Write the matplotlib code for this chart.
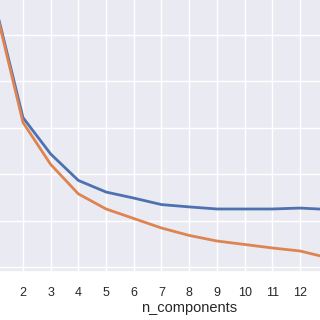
import numpy as np
import matplotlib
matplotlib.use('Agg')
import matplotlib.pyplot as plt
import seaborn as sns

# data
n_components = np.arange(1, 16)
bic = [1529, 1044, 887, 773, 723, 697, 669, 659, 650, 650, 650, 654, 648, 646, 640]
aic = [1521, 1023, 842, 715, 650, 609, 568, 536, 512, 497, 482, 469, 440, 426, 413]
shown_ticks = np.arange(2, 13)

def run():
    sns.set_theme(style='darkgrid')
    plt.rcParams['font.family'] = ['Liberation Sans', 'DejaVu Sans']

    fig = plt.figure(figsize=(3.2, 3.2), dpi=100)
    # axes is wider/taller than the canvas, the picture is a crop
    ax = fig.add_axes([-24.1/320, 48/320, 426.6/320, 280/320])

    ax.plot(n_components, bic, label='BIC', lw=2)
    ax.plot(n_components, aic, label='AIC', lw=2)

    ax.set_xlim(0.3, 15.7)
    ax.set_xticks(shown_ticks)
    ax.set_yticks(np.arange(400, 1600, 200))
    ax.set_ylim(378.4, 400 + 275*200/46.4)
    ax.tick_params(axis='x', labelsize=9, pad=4.5)
    ax.tick_params(axis='y', labelleft=False)
    ax.set_xlabel('n_components', fontsize=10.5, labelpad=2)

    fig.savefig('out.png', dpi=100)

if __name__ == '__main__':
    run()
